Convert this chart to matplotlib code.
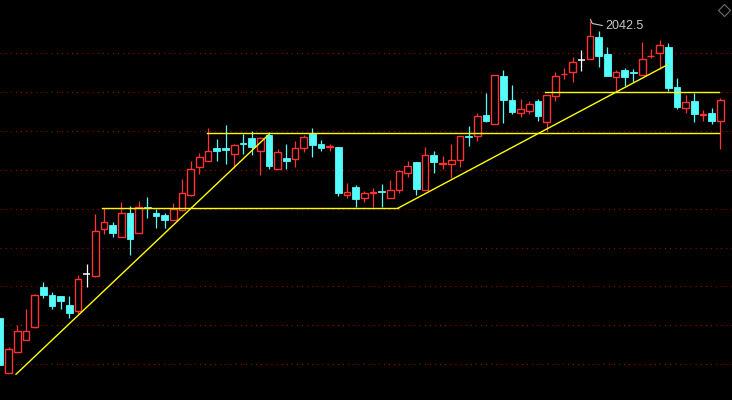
import matplotlib
matplotlib.use("Agg")
import matplotlib.pyplot as plt
import numpy as np

# ---- data (price candles) ----
opens = [1745.5, 1690.5, 1711.5, 1723.5, 1736.5, 1776.5, 1768.5, 1767.5, 1758.5, 1752.5,
         1789.5, 1787.5, 1834.5, 1838.5, 1826.5, 1850.5, 1830.5, 1856.5, 1850.5, 1848.5,
         1843.5, 1853.5, 1868.5, 1896.5, 1902.5, 1915.5, 1915.5, 1909.5, 1920.5, 1925.5,
         1912.5, 1928.5, 1894.5, 1905.5, 1904.5, 1915.5, 1929.5, 1919.5, 1917.0, 1916.5,
         1868.5, 1876.5, 1865.5, 1870.5, 1872.5, 1865.5, 1873.5, 1890.5, 1901.5, 1873.5,
         1908.5, 1900.0, 1899.5, 1903.5, 1927.5, 1927.5, 1948.5, 1939.5, 1987.5, 1963.5,
         1950.5, 1952.5, 1962.5, 1941.5, 1967.5, 1989.5, 1991.5, 2003.5, 2004.5, 2026.5,
         2009.5, 1986.5, 1993.5, 1991.5, 1988.5, 2007.5, 2010.5, 2016.5, 1976.5, 1955.5,
         1962.5, 1949.0, 1950.5, 1942.5]
closes = [1698.5, 1714.5, 1732.5, 1732.5, 1768.5, 1768.5, 1757.5, 1762.5, 1750.5, 1784.5,
          1789.5, 1832.5, 1841.5, 1830.5, 1850.5, 1824.5, 1856.5, 1855.5, 1847.5, 1843.5,
          1854.5, 1870.5, 1894.5, 1906.5, 1912.5, 1912.5, 1913.5, 1918.5, 1919.5, 1916.5,
          1925.5, 1897.5, 1911.5, 1902.5, 1915.5, 1926.5, 1918.5, 1915.5, 1917.5, 1870.5,
          1871.5, 1864.5, 1870.5, 1871.5, 1871.5, 1873.5, 1892.5, 1897.5, 1874.5, 1908.5,
          1901.5, 1900.5, 1903.5, 1927.5, 1926.5, 1947.5, 1942.5, 1988.5, 1963.5, 1951.5,
          1954.5, 1959.5, 1947.5, 1968.5, 1987.5, 1990.0, 2001.5, 2003.5, 2027.5, 2007.5,
          1987.5, 1991.5, 1986.5, 1990.5, 2004.5, 2008.0, 2018.5, 1975.5, 1956.5, 1961.5,
          1949.5, 1949.5, 1942.5, 1963.5]
highs = [1745.5, 1716.5, 1738.5, 1754.5, 1769.5, 1781.5, 1771.5, 1767.5, 1767.5, 1788.5,
         1799.5, 1849.5, 1855.5, 1841.5, 1861.5, 1857.5, 1862.5, 1866.5, 1854.5, 1850.5,
         1860.5, 1884.5, 1902.5, 1910.5, 1935.5, 1924.5, 1938.5, 1919.5, 1929.5, 1932.5,
         1926.5, 1931.5, 1914.5, 1919.5, 1922.5, 1928.5, 1935.5, 1923.5, 1919.5, 1916.5,
         1880.5, 1878.5, 1872.5, 1875.5, 1879.5, 1883.5, 1893.5, 1902.5, 1901.5, 1916.5,
         1912.5, 1907.5, 1919.5, 1927.5, 1937.5, 1950.5, 1970.5, 1988.5, 1993.5, 1978.5,
         1964.5, 1962.5, 1964.5, 1968.5, 1991.5, 1995.5, 2006.5, 2013.5, 2042.5, 2032.5,
         2016.5, 1993.5, 1995.5, 1994.5, 2021.5, 2014.5, 2023.5, 2020.5, 1985.5, 1968.5,
         1970.5, 1953.5, 1955.5, 1965.5]
lows = [1698.5, 1690.5, 1711.5, 1723.5, 1735.5, 1765.5, 1754.5, 1754.5, 1745.5, 1749.5,
        1776.5, 1786.5, 1829.5, 1826.5, 1826.5, 1808.5, 1830.5, 1845.5, 1835.5, 1835.5,
        1843.5, 1852.5, 1867.5, 1889.5, 1902.5, 1902.5, 1899.5, 1895.5, 1909.5, 1908.5,
        1888.5, 1894.5, 1894.5, 1894.5, 1896.5, 1911.5, 1906.5, 1912.5, 1912.5, 1867.5,
        1865.5, 1856.5, 1861.5, 1856.5, 1856.5, 1865.5, 1870.5, 1886.5, 1868.5, 1873.5,
        1890.5, 1894.5, 1885.5, 1896.5, 1917.5, 1922.5, 1941.5, 1939.5, 1940.5, 1949.5,
        1946.5, 1949.5, 1942.5, 1932.5, 1962.5, 1984.5, 1981.5, 1992.5, 2004.5, 1996.5,
        1987.5, 1971.5, 1977.5, 1981.5, 1988.5, 2005.5, 1994.5, 1972.5, 1954.5, 1950.5,
        1941.5, 1942.5, 1939.5, 1914.5]

# hand-drawn trend lines: (index, price) end points
line_a_x = [1.86, 30.93]
line_a_y = [1689.2, 1928.5]
line_b_x = [11.77, 45.84]
line_b_y = [1855.2, 1855.2]
line_c_x = [45.84, 76.8]
line_c_y = [1855.2, 1998.2]
line_d_x = [23.87, 82.85]
line_d_y = [1930.2, 1930.2]
line_e_x = [62.8, 82.85]
line_e_y = [1971.3, 1971.3]

grid_levels = [2010.5 - 38.9 * k for k in range(9)]

RED = "#FF3232"
CYAN = "#54FCFC"
WHITE = "#FFFFFF"
YELLOW = "#FFFF00"

fig = plt.figure(figsize=(7.32, 4.0), dpi=100, facecolor="black")
ax = fig.add_axes([0, 0, 1, 1])
ax.set_facecolor("black")
ax.set_xlim(0.02, 84.35)
ax.set_ylim(1663.5, 2063.5)
for s in ax.spines.values():
    s.set_visible(False)
ax.set_xticks([])
ax.set_yticks(grid_levels)
ax.tick_params(axis="y", length=0, labelleft=False)
ax.grid(axis="y", color="#A00000", linestyle=(0, (1, 3.6)), linewidth=0.8)
ax.set_axisbelow(True)

o = np.array(opens)
c = np.array(closes)
h = np.array(highs)
l = np.array(lows)
idx = np.arange(len(o))
w = 0.77

up = c > o
down = c < o
flat = c == o

# falling candles: filled cyan
ax.vlines(idx[down], l[down], h[down], color=CYAN, linewidth=0.9, zorder=3)
ax.bar(idx[down], (o - c)[down], bottom=c[down], width=w, color=CYAN,
       edgecolor=CYAN, linewidth=0.6, zorder=4)

# rising candles: hollow red
top = np.maximum(o, c)
bot = np.minimum(o, c)
ax.vlines(idx[up], top[up], h[up], color=RED, linewidth=0.9, zorder=3)
ax.vlines(idx[up], l[up], bot[up], color=RED, linewidth=0.9, zorder=3)
ax.bar(idx[up], (c - o)[up], bottom=o[up], width=w, facecolor="black",
       edgecolor=RED, linewidth=1.0, zorder=4)

# flat candles: white cross
ax.vlines(idx[flat], l[flat], h[flat], color=WHITE, linewidth=0.9, zorder=3)
ax.hlines(c[flat], idx[flat] - w / 2, idx[flat] + w / 2, color=WHITE, linewidth=1.1, zorder=4)

# trend lines
for xs, ys in [(line_a_x, line_a_y), (line_b_x, line_b_y), (line_c_x, line_c_y),
               (line_d_x, line_d_y), (line_e_x, line_e_y)]:
    ax.plot(xs, ys, color=YELLOW, linewidth=1.0, zorder=5)

# max price label
imax = int(np.argmax(h))
ax.plot([imax + 0.05, imax + 0.25, imax + 1.4], [h[imax] + 1.5, h[imax] - 2.5, h[imax] - 4.5],
        color="#C8C8C8", linewidth=0.8, zorder=6)
ax.text(imax + 1.7, h[imax] - 4.5, f"{h[imax]:.1f}", color="#C8C8C8", fontsize=9,
        family="Liberation Sans", ha="left", va="center", zorder=6)

# diamond icon top-right
ax.plot([0.9887], [0.976], marker="D", markersize=6.5, markerfacecolor="none",
        markeredgecolor="#6E6E6E", markeredgewidth=0.8, transform=ax.transAxes,
        clip_on=False)

fig.savefig("out.png", dpi=100, facecolor="black")
